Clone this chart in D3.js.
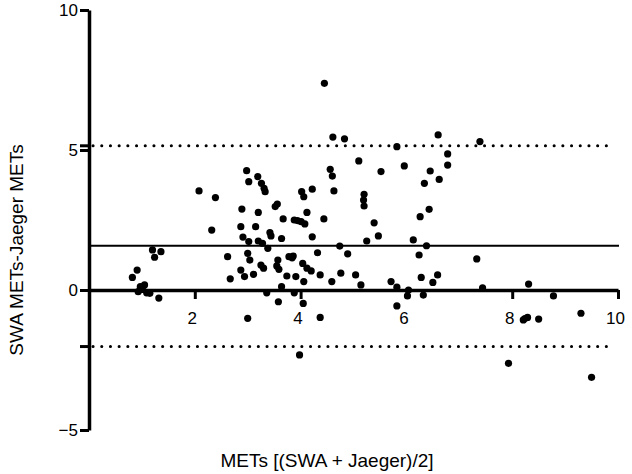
<!DOCTYPE html>
<html>
<head>
<meta charset="utf-8">
<script src="https://cdn.jsdelivr.net/npm/d3@7"></script>
<style>
  body { margin: 0; background: #fff; }
  svg text { font-family: "Liberation Sans", Arial, Helvetica, sans-serif; fill: #000; }
</style>
</head>
<body>
<svg id="chart" width="632" height="474"></svg>
<script>
// mean of the two methods (x) and their difference (y)
let meanVals = [0.82,0.91,0.93,0.97,1.01,1.05,1.09,1.15,1.20,1.24,1.32,1.36,
  2.08,2.32,2.39,2.62,2.67,2.87,2.87,2.89,2.91,
  2.98,3.02,3.19,3.26,3.31,3.33,4.02,4.06,4.22,4.56,4.60,4.63,3.20,3.52,3.56,3.67,3.88,3.94,4.01,4.08,4.12,4.44,
  3.15,3.42,3.44,3.64,4.22,3.02,3.20,3.28,3.38,4.74,3.00,3.04,4.32,3.25,3.30,3.57,3.55,3.59,3.78,3.84,3.86,
  4.04,4.12,4.20,2.94,3.11,3.74,3.91,4.06,4.37,4.59,4.76,3.64,3.36,3.88,4.05,3.58,
  3.00,4.37,5.14,5.71,5.82,6.04,6.02,6.32,5.82,3.98,
  4.61,4.83,5.82,6.60,5.10,5.52,5.96,6.78,6.78,6.45,6.34,6.62,5.20,5.19,5.20,5.39,5.47,6.26,6.43,5.25,6.13,
  4.89,6.38,6.24,5.04,6.28,6.59,6.50,
  4.45,7.39,7.33,7.44,8.31,8.78,
  8.21,8.24,8.29,8.50,9.30,7.93,9.50];
let diffVals = [0.45,0.71,-0.06,0.12,0.02,0.18,-0.10,-0.12,1.43,1.17,-0.29,1.37,
  3.54,2.14,3.30,1.19,0.40,0.71,2.26,2.89,1.89,
  4.26,3.87,4.05,3.81,3.63,3.51,3.51,3.33,3.60,4.31,4.07,3.54,2.77,2.98,3.07,2.54,2.50,2.48,2.44,2.36,2.77,2.54,
  2.26,2.05,1.93,1.84,1.90,1.73,1.75,1.67,1.49,1.57,1.31,1.07,1.33,0.89,0.78,1.07,0.86,0.74,1.19,1.15,1.21,
  0.95,0.78,0.68,0.48,0.56,0.50,0.48,0.30,0.54,0.30,0.60,0.12,-0.10,-0.10,-0.48,-0.42,
  -1.01,-0.98,0.18,0.30,0.10,0.00,-0.21,-0.18,-0.57,-2.32,
  5.46,5.40,5.12,5.54,4.61,4.23,4.43,4.86,4.46,4.25,3.81,3.95,3.42,3.21,3.00,2.40,1.93,2.62,2.88,1.75,1.79,
  1.29,1.58,1.25,0.54,0.45,0.54,0.27,
  7.38,5.30,1.11,0.08,0.21,-0.21,
  -1.07,-1.02,-0.98,-1.04,-0.83,-2.62,-3.12];

let biasVal = 1.58;
let limitVals = [5.15, -2.02];   // 95% limits of agreement
let xTicks = [2, 4, 6, 8, 10];
let yTicks = [-5, 0, 5, 10];
let xTitle = "METs [(SWA + Jaeger)/2]";
let yTitle = "SWA METs-Jaeger METs";

let svg = d3.select("#chart");

let x = d3.scaleLinear().domain([0, 10]).range([89, 618]);
let y = d3.scaleLinear().domain([-5, 10]).range([430, 10]);

// reference lines
svg.append("line")
  .attr("x1", x(0)).attr("x2", x(10) + 1)
  .attr("y1", y(biasVal)).attr("y2", y(biasVal))
  .attr("stroke", "#000").attr("stroke-width", 2);

svg.selectAll(".loa")
  .data(limitVals)
  .enter()
  .append("line")
  .attr("class", "loa")
  .attr("x1", x(0) + 4).attr("x2", x(10) - 4)
  .attr("y1", d => y(d)).attr("y2", d => y(d))
  .attr("stroke", "#000").attr("stroke-width", 3)
  .attr("stroke-linecap", "round")
  .attr("stroke-dasharray", "0.1 8.6");

// small marks on the y axis where the limits sit
svg.selectAll(".loatick")
  .data(limitVals)
  .enter()
  .append("line")
  .attr("x1", x(0) - 9).attr("x2", x(0))
  .attr("y1", d => y(d)).attr("y2", d => y(d))
  .attr("stroke", "#000").attr("stroke-width", 3);

// axes
let gx = svg.append("g")
  .attr("transform", "translate(0," + y(0) + ")")
  .call(d3.axisBottom(x).tickValues(xTicks).tickSize(9).tickSizeOuter(0).tickPadding(13));
gx.select(".domain").attr("stroke-width", 3.5);
gx.selectAll(".tick line").attr("stroke-width", 3);
gx.selectAll(".tick text").style("font-size", "17px").attr("dx", -3);

let gy = svg.append("g")
  .attr("transform", "translate(" + x(0) + ",0)")
  .call(d3.axisLeft(y).tickValues(yTicks).tickSize(9).tickSizeOuter(0).tickPadding(2));
gy.select(".domain").attr("stroke-width", 3.5);
gy.selectAll(".tick line").attr("stroke-width", 3);
gy.selectAll(".tick text").style("font-size", "17px");

// points
svg.selectAll(".pt")
  .data(meanVals.map((m, i) => [m, diffVals[i]]))
  .enter()
  .append("circle")
  .attr("class", "pt")
  .attr("cx", d => x(d[0]))
  .attr("cy", d => y(d[1]))
  .attr("r", 3.6)
  .attr("fill", "#000");

// titles
svg.append("text")
  .attr("x", 327).attr("y", 467)
  .attr("text-anchor", "middle")
  .style("font-size", "19px")
  .text(xTitle);

svg.append("text")
  .attr("transform", "translate(23,250) rotate(-90)")
  .attr("text-anchor", "middle")
  .style("font-size", "19px")
  .text(yTitle);
</script>
</body>
</html>
